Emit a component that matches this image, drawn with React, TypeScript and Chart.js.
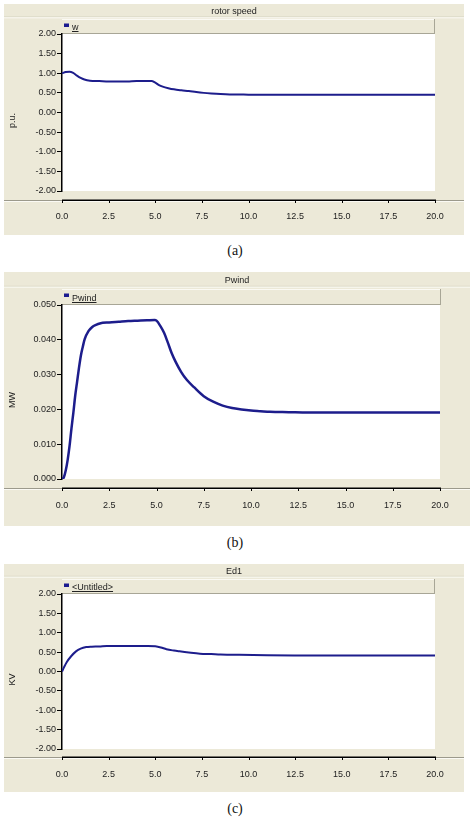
import React, { useEffect, useRef } from "react";
import { Chart, registerables } from "chart.js";

Chart.register(...registerables);

const FONT = "'Liberation Sans', Arial, sans-serif";
const FRAME = "#ECE9D8";
const LINE_COLOR = "#1d1d8c";

// ---- data ----
const xTickStep = 2.5;

const rotorTime = [0, 0.2, 0.4, 0.6, 0.8, 1.0, 1.2, 1.5, 2.0, 2.5, 3.0, 3.5, 4.0, 4.5, 4.8, 5.0, 5.2, 5.4, 5.7, 6.0, 6.4, 6.8, 7.2, 7.6, 8.0, 8.5, 9.0, 10.0, 12.0, 15.0, 20.0];
const rotorSpeed = [1.0, 1.03, 1.04, 1.01, 0.94, 0.88, 0.84, 0.81, 0.8, 0.79, 0.79, 0.79, 0.8, 0.8, 0.8, 0.76, 0.7, 0.66, 0.62, 0.59, 0.565, 0.545, 0.52, 0.5, 0.485, 0.47, 0.46, 0.455, 0.45, 0.45, 0.45];

const pwindTime = [0, 0.1, 0.2, 0.3, 0.4, 0.5, 0.6, 0.7, 0.8, 0.9, 1.0, 1.1, 1.2, 1.4, 1.6, 1.8, 2.0, 2.5, 3.0, 3.5, 4.0, 4.5, 4.9, 5.0, 5.2, 5.4, 5.6, 5.8, 6.0, 6.3, 6.6, 7.0, 7.5, 8.0, 8.5, 9.0, 9.5, 10.0, 10.5, 11.0, 12.0, 13.0, 15.0, 20.0];
const pwindPower = [0, 0.0005, 0.0025, 0.0055, 0.0095, 0.0145, 0.019, 0.024, 0.028, 0.032, 0.0355, 0.038, 0.0402, 0.0425, 0.0437, 0.0443, 0.0447, 0.045, 0.0452, 0.0454, 0.0455, 0.0456, 0.0457, 0.0455, 0.044, 0.042, 0.0392, 0.0362, 0.0338, 0.0308, 0.0285, 0.0263, 0.0238, 0.0222, 0.0211, 0.0204, 0.02, 0.0197, 0.0195, 0.0193, 0.0192, 0.0191, 0.0191, 0.0191];

const ed1Time = [0, 0.1, 0.25, 0.5, 0.75, 1.0, 1.3, 1.6, 2.0, 2.4, 3.0, 4.0, 4.6, 5.0, 5.3, 5.6, 6.0, 6.3, 6.8, 7.4, 8.0, 8.5, 9.5, 11.0, 13.0, 16.0, 20.0];
const ed1Voltage = [0.0, 0.1, 0.24, 0.4, 0.52, 0.59, 0.63, 0.64, 0.645, 0.66, 0.66, 0.66, 0.66, 0.65, 0.62, 0.575, 0.54, 0.52, 0.49, 0.46, 0.45, 0.44, 0.43, 0.42, 0.415, 0.41, 0.41];

const titles = ["rotor speed", "Pwind", "Ed1"];
const legends = ["w", "Pwind", "<Untitled>"];
const yTitles = ["p.u.", "MW", "KV"];
const captions = ["(a)", "(b)", "(c)"];

type Spec = {
  title: string;
  legend: string;
  yTitle: string;
  t: number[];
  v: number[];
  yMin: number;
  yMax: number;
  yStep: number;
  yDigits: number;
  left: number;
  top: number;
  width: number;
  height: number;
  padTop: number;
  padRight: number;
  xHeight: number;
  axisGap: number;
  labelPad: number;
  titleY: number;
  titleLineY: number;
  legendH: number;
  legendExtra: number;
  lineWidth: number;
  captionY: number;
  caption: string;
};

const framePlugin = {
  id: "frame",
  beforeDraw(chart: any, _a: any, o: any) {
    const { ctx, width, height, chartArea: ca } = chart;
    ctx.save();
    ctx.fillStyle = FRAME;
    ctx.fillRect(0, 0, width, height);
    // title bar separator
    ctx.fillStyle = "#dcd9c8";
    ctx.fillRect(0, o.titleLineY - 1, width, 1);
    ctx.fillStyle = "#fbfaf4";
    ctx.fillRect(0, o.titleLineY, width, 1);
    ctx.fillStyle = "#222";
    ctx.font = `9px ${FONT}`;
    ctx.textAlign = "center";
    ctx.textBaseline = "middle";
    ctx.fillText(o.title, width / 2, o.titleY);
    // legend bar
    const lt = ca.top - o.legendH;
    const lr = ca.right + o.legendExtra;
    ctx.fillStyle = "#fbfaf4";
    ctx.fillRect(ca.left, lt, lr - ca.left, 1);
    ctx.fillStyle = "#a8a696";
    ctx.fillRect(ca.left, ca.top - 1, lr - ca.left, 1);
    ctx.fillRect(lr - 1, lt, 1, ca.top - lt);
    // plot background
    ctx.fillStyle = "#ffffff";
    ctx.fillRect(ca.left, ca.top, ca.right - ca.left, ca.bottom - ca.top);
    ctx.restore();
  },
  afterDraw(chart: any, _a: any, o: any) {
    const { ctx, width, chartArea: ca } = chart;
    const xs = chart.scales.x;
    ctx.save();
    const y = ca.bottom + o.axisGap;
    ctx.fillStyle = "#9c9a8c";
    ctx.fillRect(0, y, width, 1);
    ctx.fillStyle = "#fbfaf4";
    ctx.fillRect(0, y + 1, width, 1);
    ctx.fillStyle = "#000";
    ctx.fillRect(ca.left, y - 0.5, ca.right - ca.left + 1, 1.5);
    for (const tk of xs.ticks) {
      const px = Math.round(xs.getPixelForValue(tk.value));
      ctx.fillRect(px, y, 1, 3);
    }
    // legend
    const lt = ca.top - o.legendH;
    ctx.fillStyle = "#1b1b8f";
    ctx.fillRect(ca.left + 2, lt + 4.5, 5, 3.5);
    ctx.fillStyle = "#222";
    ctx.font = `9px ${FONT}`;
    ctx.textAlign = "left";
    ctx.textBaseline = "alphabetic";
    const tx = ca.left + 10;
    const ty = ca.top - 4;
    ctx.fillText(o.legend, tx, ty);
    const w = ctx.measureText(o.legend).width;
    ctx.fillRect(tx, ty + 1, w, 1);
    // y title
    ctx.translate(9, (ca.top + ca.bottom) / 2 + 8);
    ctx.rotate(-Math.PI / 2);
    ctx.textAlign = "center";
    ctx.textBaseline = "middle";
    ctx.fillStyle = "#222";
    ctx.fillText(o.yTitle, 0, 0);
    ctx.restore();
  },
};

function Panel({ s }: { s: Spec }) {
  const ref = useRef<HTMLCanvasElement | null>(null);
  useEffect(() => {
    if (!ref.current) return;
    const data = s.t.map((t, i) => ({ x: t, y: s.v[i] }));
    const chart = new Chart(ref.current, {
      type: "line",
      data: {
        datasets: [
          {
            label: s.legend,
            data,
            borderColor: LINE_COLOR,
            borderWidth: s.lineWidth,
            pointRadius: 0,
            fill: false,
            cubicInterpolationMode: "monotone",
          },
        ],
      },
      options: {
        responsive: false,
        maintainAspectRatio: false,
        devicePixelRatio: 1,
        animation: false,
        layout: { padding: { top: s.padTop, right: s.padRight, left: 0, bottom: 0 } },
        plugins: {
          legend: { display: false },
          tooltip: { enabled: false },
          title: { display: false },
          frame: {
            title: s.title,
            legend: s.legend,
            yTitle: s.yTitle,
            axisGap: s.axisGap,
            titleY: s.titleY,
            titleLineY: s.titleLineY,
            legendH: s.legendH,
            legendExtra: s.legendExtra,
          },
        } as any,
        scales: {
          x: {
            type: "linear",
            min: 0,
            max: 20,
            grid: { display: false },
            border: { display: false },
            ticks: {
              stepSize: xTickStep,
              autoSkip: false,
              maxRotation: 0,
              padding: s.labelPad,
              color: "#222",
              font: { family: FONT, size: 9 },
              callback: (v: any) => Number(v).toFixed(1),
            },
            afterFit: (sc: any) => {
              sc.height = s.xHeight;
            },
          },
          y: {
            type: "linear",
            min: s.yMin,
            max: s.yMax,
            grid: { display: true, drawOnChartArea: false, drawTicks: true, tickLength: 5, color: "#000" },
            border: { display: true, color: "#000", width: 1.5 },
            ticks: {
              stepSize: s.yStep,
              padding: 1,
              color: "#222",
              font: { family: FONT, size: 9 },
              callback: (v: any) => Number(v).toFixed(s.yDigits),
            },
            afterFit: (sc: any) => {
              sc.width = 58;
            },
          },
        },
      },
      plugins: [framePlugin as any],
    });
    return () => chart.destroy();
  }, [s]);
  return (
    <>
      <canvas
        ref={ref}
        width={s.width}
        height={s.height}
        style={{ position: "absolute", left: s.left, top: s.top, width: s.width, height: s.height }}
      />
      <div
        style={{
          position: "absolute",
          left: 0,
          width: 470,
          top: s.captionY - 8,
          height: 16,
          lineHeight: "16px",
          textAlign: "center",
          fontFamily: "'Liberation Serif', 'Times New Roman', serif",
          fontSize: 14,
          color: "#111",
        }}
      >
        {s.caption}
      </div>
    </>
  );
}

const specs: Spec[] = [
  {
    title: titles[0], legend: legends[0], yTitle: yTitles[0], t: rotorTime, v: rotorSpeed,
    yMin: -2, yMax: 2, yStep: 0.5, yDigits: 2,
    left: 4, top: 4, width: 460, height: 231, padTop: 30, padRight: 29, xHeight: 44,
    axisGap: 9, labelPad: 12.6, titleY: 7.7, titleLineY: 13.3, legendH: 15, legendExtra: 0,
    lineWidth: 2, captionY: 251, caption: captions[0],
  },
  {
    title: titles[1], legend: legends[1], yTitle: yTitles[1], t: pwindTime, v: pwindPower,
    yMin: 0, yMax: 0.05, yStep: 0.01, yDigits: 3,
    left: 4, top: 272, width: 466, height: 254, padTop: 33, padRight: 30, xHeight: 47,
    axisGap: 9, labelPad: 13.6, titleY: 8.7, titleLineY: 14.7, legendH: 16, legendExtra: 1,
    lineWidth: 2.5, captionY: 543, caption: captions[1],
  },
  {
    title: titles[2], legend: legends[2], yTitle: yTitles[2], t: ed1Time, v: ed1Voltage,
    yMin: -2, yMax: 2, yStep: 0.5, yDigits: 2,
    left: 4, top: 564, width: 460, height: 228, padTop: 30, padRight: 29, xHeight: 43,
    axisGap: 8, labelPad: 12.6, titleY: 7.7, titleLineY: 12.7, legendH: 15, legendExtra: 0,
    lineWidth: 2, captionY: 809, caption: captions[2],
  },
];

export default function App() {
  return (
    <div style={{ position: "absolute", left: 0, top: 0, width: 470, height: 818, background: "#fff", overflow: "hidden" }}>
      {specs.map((s, i) => (
        <Panel key={i} s={s} />
      ))}
    </div>
  );
}
